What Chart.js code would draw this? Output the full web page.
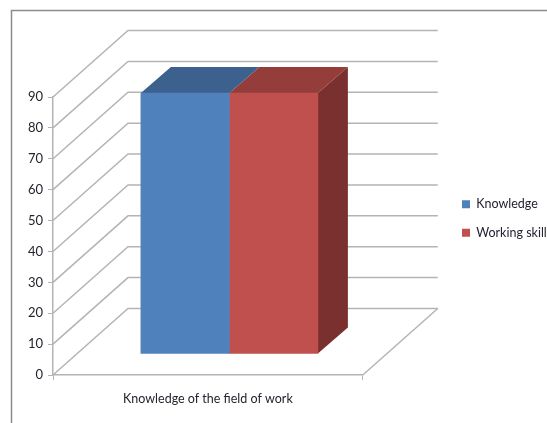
<!DOCTYPE html>
<html lang="en">
<head>
  <meta charset="UTF-8">
  <title>Knowledge of the field of work</title>
  <script src="https://cdn.jsdelivr.net/npm/chart.js"></script>
  <style>
    html, body { margin: 0; padding: 0; background: #ffffff; overflow: hidden; }
    canvas { display: block; }
  </style>
</head>
<body>
  <canvas id="chart" width="547" height="423"></canvas>
  <script>
    const categories = ['Knowledge of the field of work'];
    const knowledgeValues = [84.5];
    const workingSkillsValues = [84.5];

    const fontName = 'Lato, "Open Sans", sans-serif';
    const textColor = '#24242e';
    const gridColor = '#b4b4b4';

    // fake 3D depth, in pixels
    const wallDx = 75, wallDy = 66.5;
    const barShiftX = 21.5, barShiftY = 21;
    const barDepthX = 30, barDepthY = 26;

    function face(ctx, points, color) {
      ctx.fillStyle = color;
      ctx.beginPath();
      points.forEach((p, i) => i ? ctx.lineTo(p[0], p[1]) : ctx.moveTo(p[0], p[1]));
      ctx.closePath();
      ctx.fill();
    }

    const fake3d = {
      id: 'fake3d',
      afterLayout(chart) {
        // legend sits far right of the plot, running off the edge
        chart.legend.left = 446;
        chart.legend.right = 600;
        chart.legend.top = 182;
      },
      beforeDatasetsDraw(chart) {
        const ctx = chart.ctx, y = chart.scales.y, a = chart.chartArea;
        ctx.save();
        ctx.strokeStyle = gridColor;
        ctx.lineWidth = 1.5;
        y.ticks.forEach(t => {
          const py = y.getPixelForValue(t.value);
          ctx.beginPath();
          ctx.moveTo(a.left, py);
          ctx.lineTo(a.left + wallDx, py - wallDy);
          ctx.lineTo(a.right + wallDx, py - wallDy);
          ctx.stroke();
        });
        // floor, right side
        const base = y.getPixelForValue(0);
        ctx.beginPath();
        ctx.moveTo(a.right, base);
        ctx.lineTo(a.right + wallDx, base - wallDy);
        ctx.stroke();
        ctx.restore();
      },
      beforeDatasetDraw(chart, args) {
        const ctx = chart.ctx;
        const ds = chart.data.datasets[args.index];
        ctx.save();
        ctx.translate(barShiftX, -barShiftY);
        chart.getDatasetMeta(args.index).data.forEach(bar => {
          const l = bar.x - bar.width / 2, r = bar.x + bar.width / 2;
          // the blue side is hidden behind the red bar, so only red has one
          if (ds.sideColor) {
            face(ctx, [[r, bar.y], [r + barDepthX, bar.y - barDepthY], [r + barDepthX, bar.base - barDepthY], [r, bar.base]], ds.sideColor);
          }
          face(ctx, [[l, bar.y], [l + barDepthX, bar.y - barDepthY], [r + barDepthX, bar.y - barDepthY], [r, bar.y]], ds.topColor);
        });
      },
      afterDatasetDraw(chart) {
        chart.ctx.restore();
      },
      afterDraw(chart) {
        // chart frame, only top and left fall inside the picture
        const ctx = chart.ctx;
        ctx.save();
        ctx.strokeStyle = '#8c8c8c';
        ctx.lineWidth = 1.5;
        ctx.beginPath();
        ctx.moveTo(11.5, chart.height);
        ctx.lineTo(11.5, 10.5);
        ctx.lineTo(chart.width, 10.5);
        ctx.stroke();
        ctx.restore();
      }
    };

    new Chart(document.getElementById('chart').getContext('2d'), {
      type: 'bar',
      data: {
        labels: categories,
        datasets: [
          { label: 'Knowledge', data: knowledgeValues, backgroundColor: '#4f81bd', topColor: '#3c618e' },
          { label: 'Working skills', data: workingSkillsValues, backgroundColor: '#c0504d', topColor: '#943d3a', sideColor: '#79302e' }
        ]
      },
      options: {
        responsive: false,
        animation: false,
        devicePixelRatio: 1,
        layout: { padding: { top: 97, right: 68, bottom: 0, left: 0 } },
        datasets: { bar: { barThickness: 88.5 } },
        plugins: {
          tooltip: { enabled: false },
          legend: {
            position: 'right',
            align: 'start',
            labels: { boxWidth: 8, boxHeight: 8, padding: 16, color: textColor, font: { family: fontName, size: 12.5 } }
          }
        },
        scales: {
          x: {
            grid: { drawOnChartArea: false, color: gridColor, tickLength: 5 },
            border: { color: gridColor, width: 1.5 },
            ticks: { color: textColor, padding: 11, font: { family: fontName, size: 12.5 } },
            afterFit(scale) { scale.height = 48; }
          },
          y: {
            min: 0,
            max: 90,
            grid: { drawOnChartArea: false, color: gridColor, tickLength: 5 },
            border: { color: gridColor, width: 1.5 },
            ticks: { stepSize: 10, color: textColor, padding: 5, font: { family: fontName, size: 13 } },
            afterFit(scale) { scale.width = 53; }
          }
        }
      },
      plugins: [fake3d]
    });
  </script>
</body>
</html>
